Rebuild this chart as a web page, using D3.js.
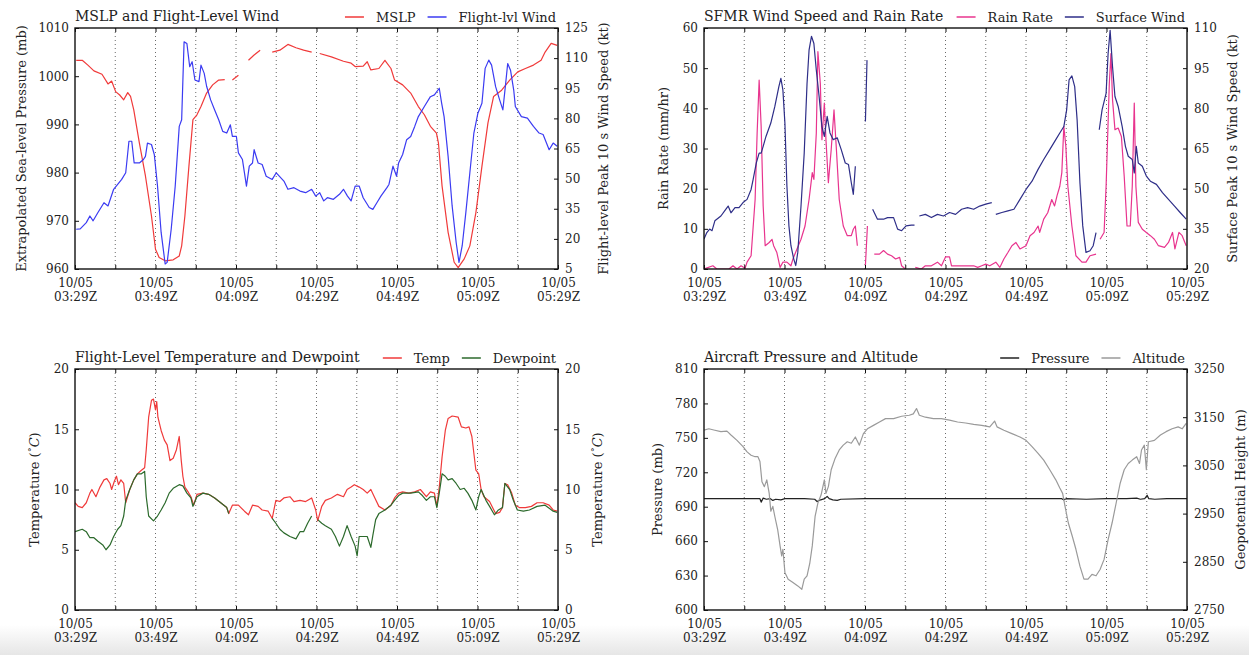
<!DOCTYPE html>
<html lang="en">
<head>
  <title>Recon flight data</title>
  <meta charset="UTF-8">
  <style>
    body { margin: 0; background: #fff; }
    svg { display: block; font-family: "DejaVu Serif", serif; }
  </style>
  <script src="https://cdn.jsdelivr.net/npm/d3@7"></script>
</head>
<body>
<script>
// every series: [minutes after 10/05 03:29Z, value], null value = data gap

var mslp = [[0.3,1003.3],[1.8,1003.3],[3.2,1002.3],[4.7,1001.1],[6.7,1000.4],[8.2,998.4],[9.1,999.0],[10.1,996.8],[11.1,996.1],[12.1,995.1],[13.1,996.6],[13.8,995.8],[14.6,993.0],[16.0,986.1],[17.5,979.3],[19.0,971.0],[20.0,964.1],[20.9,962.4],[22.4,961.7],[24.4,961.9],[25.9,962.7],[26.5,964.8],[27.3,971.0],[28.3,981.3],[29.3,991.0],[30.3,992.0],[31.3,993.7],[32.7,996.5],[34.2,998.2],[35.7,999.2],[37.2,999.3],[38.0,null],[39.1,999.2],[40.6,1000.2],[41.5,null],[43.1,1003.3],[44.5,1004.4],[46.0,1005.4],[47.5,null],[49.0,1005.0],[50.9,1005.4],[52.9,1006.6],[54.9,1005.9],[56.8,1005.4],[58.8,1005.0],[59.8,null],[60.8,1004.7],[63.7,1004.0],[66.7,1003.1],[68.6,1002.7],[69.6,1002.0],[71.6,1002.1],[72.6,1003.0],[73.5,1001.3],[75.5,1001.6],[77.0,1003.3],[78.5,1001.6],[79.4,999.2],[81.4,998.2],[83.4,996.5],[85.3,993.7],[86.8,992.0],[88.3,989.6],[89.8,988.2],[90.3,986.1],[91.2,977.2],[92.7,967.6],[94.2,961.4],[95.2,960.3],[96.7,962.1],[98.1,964.8],[99.6,971.7],[101.1,981.3],[102.6,990.3],[104.0,995.8],[106.0,997.1],[108.0,999.2],[110.0,1000.9],[111.9,1001.6],[113.9,1002.3],[115.8,1003.3],[116.8,1005.0],[118.3,1006.8],[119.8,1006.4]];

var flightWind = [[0.3,24.8],[1.3,25.0],[2.8,28.1],[3.7,31.4],[4.5,29.0],[5.7,33.1],[7.2,38.0],[8.2,36.4],[9.6,44.7],[11.6,49.6],[12.6,52.9],[13.4,68.6],[14.1,68.6],[14.7,57.8],[16.0,57.8],[17.0,59.5],[17.5,61.1],[18.0,67.7],[19.0,67.0],[19.7,62.0],[20.5,46.3],[21.4,23.2],[22.4,7.5],[22.9,8.3],[23.9,24.8],[24.9,46.3],[25.9,76.0],[26.5,79.3],[27.1,118.1],[27.8,117.3],[28.5,105.7],[29.1,108.2],[29.8,99.1],[30.8,98.3],[31.3,106.5],[32.1,102.4],[32.7,96.0],[33.7,89.2],[34.7,84.2],[35.7,79.3],[36.7,73.5],[37.7,72.7],[38.6,76.8],[39.1,71.0],[40.1,71.0],[40.6,62.8],[41.6,59.5],[42.6,46.3],[43.3,56.2],[44.1,57.8],[44.5,64.4],[45.5,57.8],[46.5,57.0],[47.5,51.2],[49.0,49.6],[50.0,52.9],[51.9,48.8],[52.9,44.7],[54.4,45.5],[55.9,43.8],[57.3,43.0],[58.8,44.7],[59.8,41.3],[60.8,43.0],[61.8,38.9],[62.7,40.5],[64.2,39.7],[65.7,42.2],[66.7,44.7],[67.7,41.3],[68.6,38.9],[69.6,46.3],[70.6,46.3],[71.6,40.5],[73.1,35.6],[74.0,34.7],[75.0,38.0],[76.0,41.3],[77.5,45.5],[78.0,47.1],[79.0,56.2],[79.9,51.2],[80.4,57.8],[81.4,62.0],[82.4,69.4],[83.4,71.0],[84.4,76.0],[85.3,80.9],[86.8,85.9],[88.3,90.8],[89.3,91.7],[90.5,95.0],[91.1,87.5],[91.7,80.9],[92.7,61.1],[93.7,36.4],[94.7,18.2],[95.4,8.3],[96.2,16.6],[97.1,33.1],[98.1,52.9],[99.1,72.7],[100.1,82.6],[101.1,87.5],[101.9,104.9],[102.8,109.0],[103.5,106.5],[104.5,95.8],[105.5,89.2],[106.3,84.2],[107.0,97.4],[107.5,107.3],[108.2,104.0],[109.0,94.1],[109.4,85.9],[110.9,80.9],[112.4,80.1],[113.9,76.0],[115.3,72.7],[116.3,72.0],[117.8,64.4],[118.8,67.7],[119.8,66.1]];

var rainRate = [[0,0],[2.2,0.8],[3.2,0],[6.2,0],[7.2,0.8],[8.2,0],[9.2,0.8],[10.2,0.2],[10.7,1.7],[11.7,3.3],[12.7,17.3],[13.2,33.8],[13.7,47.0],[14.2,35.5],[14.7,15.7],[15.2,5.8],[16.2,6.6],[16.9,7.4],[17.3,5.8],[18.1,4.1],[18.9,0.4],[19.6,1.7],[20.6,1.7],[21.6,0.8],[22.1,2.5],[23.1,5.0],[24.1,7.4],[25.1,10.7],[26.1,17.3],[26.9,24.0],[27.3,22.3],[27.9,33.8],[28.3,54.1],[28.9,46.2],[29.3,32.2],[29.9,41.3],[30.3,32.2],[30.9,21.5],[31.6,29.7],[32.3,39.6],[32.9,29.7],[33.6,17.3],[34.6,10.7],[35.6,8.3],[36.6,8.3],[37.1,9.9],[37.6,10.7],[38.1,5.8],[39.0,null],[40.1,0.8],[40.6,10.7],[41.0,null],[42.3,3.7],[43.6,3.7],[44.6,4.6],[45.6,3.7],[46.6,3.3],[47.6,2.5],[48.6,2.9],[49.1,0.8],[50.0,0],[51.0,null],[52.5,0.4],[54.0,0],[55.0,0.8],[56.5,0.8],[58.0,1.7],[59.0,0.8],[60.0,3.0],[61.0,3.0],[61.5,0.8],[64.0,0.8],[67.0,0.8],[68.0,0.4],[69.0,0.8],[70.0,1.2],[71.0,0.8],[72.5,1.7],[73.5,0.4],[74.5,2.5],[75.5,4.1],[76.5,5.8],[77.5,6.6],[78.5,5.0],[80.0,5.8],[81.0,8.3],[82.0,9.1],[83.0,10.7],[83.4,9.1],[84.4,12.4],[85.4,14.0],[86.4,17.3],[87.1,15.7],[87.7,18.2],[88.4,20.6],[88.9,24.0],[89.4,35.5],[89.9,30.5],[90.4,20.6],[91.4,10.7],[92.4,3.3],[93.9,1.7],[94.9,1.7],[95.9,3.3],[97.4,3.7],[98.0,null],[98.4,7.4],[99.4,9.1],[99.9,20.6],[100.7,46.2],[101.1,53.6],[101.5,42.1],[102.1,34.7],[102.9,35.1],[103.7,33.0],[104.4,23.1],[105.1,10.7],[105.9,10.7],[106.4,20.6],[106.9,41.3],[107.3,20.6],[107.9,11.6],[108.9,9.9],[109.9,9.1],[110.9,8.3],[111.9,7.4],[112.9,5.8],[114.4,5.4],[115.4,6.6],[116.4,9.1],[117.0,5.0],[118.0,9.1],[118.8,8.3],[119.8,5.8]];

var surfaceWind = [[0,31.2],[0.7,33.6],[1.4,34.9],[2.0,34.3],[2.7,38.0],[4.2,39.8],[5.4,42.3],[6.0,43.5],[6.7,41.0],[7.7,42.9],[8.7,42.9],[9.7,44.8],[10.7,46.0],[11.7,49.7],[12.2,53.4],[13.0,59.6],[13.7,63.3],[14.2,63.3],[14.7,65.8],[15.4,69.5],[16.6,74.5],[17.6,80.7],[18.6,88.1],[19.1,91.2],[19.6,86.9],[20.1,74.5],[20.6,51.0],[21.1,36.1],[21.6,28.7],[22.3,23.7],[22.8,21.3],[23.3,26.2],[24.1,43.5],[24.9,63.3],[25.6,89.3],[26.1,101.7],[26.7,106.9],[27.3,104.2],[27.9,94.3],[28.6,84.4],[29.3,73.2],[29.9,69.5],[30.6,77.0],[31.3,70.8],[32.1,68.3],[33.1,69.0],[34.1,64.6],[35.1,59.6],[35.9,59.0],[36.6,52.2],[37.1,47.9],[37.6,58.4],[38.5,null],[40.1,75.1],[40.5,98.0],[41.0,null],[41.9,42.3],[43.1,38.6],[44.6,38.6],[45.6,39.2],[47.1,39.2],[48.1,34.9],[49.1,34.3],[50.2,36.1],[51.5,36.4],[52.3,36.4],[53.0,null],[53.5,39.8],[55.0,40.4],[56.5,39.2],[58.0,40.4],[59.5,39.8],[61.0,41.1],[62.5,40.4],[64.0,42.3],[65.5,42.9],[67.0,42.3],[68.5,43.5],[70.0,44.2],[71.5,44.8],[72.0,null],[72.5,40.4],[74.0,41.1],[75.5,41.7],[77.0,42.3],[78.5,46.0],[80.0,49.7],[81.5,52.8],[83.0,57.2],[84.4,60.9],[85.9,64.6],[87.4,68.3],[88.4,70.8],[89.4,73.2],[90.1,79.4],[90.7,90.6],[91.4,92.1],[92.1,88.1],[92.7,75.7],[93.4,52.2],[94.1,36.1],[94.9,26.2],[95.9,26.8],[96.7,28.7],[97.4,33.6],[98.0,null],[98.2,72.0],[98.9,79.4],[99.9,85.6],[100.4,100.5],[100.9,109.1],[101.5,95.5],[102.1,84.4],[102.9,80.7],[103.9,73.2],[104.7,65.8],[105.4,62.1],[106.4,60.9],[106.9,55.9],[107.4,65.8],[107.9,59.6],[108.9,58.4],[109.9,54.7],[110.9,52.8],[112.4,51.6],[113.9,48.5],[115.4,46.0],[116.9,43.5],[118.3,41.1],[119.8,38.6]];

var temperature = [[0,8.9],[0.8,8.6],[1.8,8.5],[2.8,8.9],[3.7,9.7],[4.2,10.0],[5.2,9.4],[6.2,10.2],[7.2,10.8],[7.9,10.9],[8.7,10.5],[9.1,10.0],[9.8,10.7],[10.3,11.1],[10.8,10.4],[11.4,10.8],[12.1,10.5],[12.6,8.9],[13.6,10.0],[14.6,10.8],[15.5,11.3],[16.5,11.6],[17.3,11.8],[17.7,13.3],[18.3,16.0],[19.0,17.4],[19.5,17.5],[20.0,16.6],[20.3,17.3],[20.6,16.0],[21.4,14.9],[22.2,14.1],[22.9,13.7],[23.6,12.4],[24.4,12.6],[25.2,13.3],[25.9,14.4],[26.4,12.4],[26.8,11.1],[27.3,10.2],[28.1,9.8],[28.8,9.4],[29.5,8.7],[30.3,9.6],[31.8,9.7],[33.2,9.6],[34.7,9.3],[36.2,8.9],[37.7,8.5],[38.2,8.0],[39.1,8.7],[40.6,8.7],[42.1,8.2],[43.1,7.9],[44.1,8.7],[45.5,8.6],[46.5,8.3],[48.0,8.2],[49.0,7.6],[49.9,9.1],[50.9,9.0],[51.9,9.3],[53.4,9.4],[54.4,9.0],[55.9,9.1],[57.3,9.0],[58.8,9.3],[59.8,8.3],[60.3,7.4],[61.3,8.6],[62.2,9.1],[63.7,9.3],[65.2,9.6],[66.7,9.4],[67.6,10.0],[68.6,10.2],[69.4,10.4],[70.6,10.2],[71.6,10.0],[72.6,9.7],[73.5,10.0],[74.5,9.3],[75.5,8.6],[77.0,8.3],[78.5,8.7],[79.4,9.3],[80.4,9.7],[81.4,9.8],[82.9,9.7],[84.4,9.8],[85.8,10.0],[87.3,9.4],[88.3,9.8],[89.3,9.7],[89.9,8.6],[90.5,10.2],[91.2,12.7],[92.0,14.9],[92.7,15.9],[93.7,16.1],[95.2,16.0],[96.0,15.2],[97.1,15.1],[97.9,15.2],[98.6,14.4],[99.6,11.6],[100.3,11.3],[100.9,10.0],[101.6,9.4],[103.0,9.0],[104.5,8.0],[105.5,8.1],[106.2,8.5],[106.8,10.5],[107.5,10.4],[108.5,9.7],[109.4,8.7],[110.4,8.5],[111.9,8.5],[113.4,8.6],[114.8,8.9],[116.3,8.9],[117.8,8.7],[118.8,8.3],[119.8,8.2]];

var dewpoint = [[0,6.5],[1.8,6.7],[2.8,6.5],[3.7,6.0],[4.7,6.0],[5.7,5.7],[6.9,5.4],[7.7,5.0],[8.7,5.4],[9.6,6.1],[10.6,6.7],[11.4,7.0],[12.1,7.8],[12.6,9.1],[13.6,10.0],[14.6,10.8],[15.5,11.3],[16.5,11.3],[17.3,11.5],[17.7,9.4],[18.3,7.8],[19.5,7.4],[20.5,7.8],[21.4,8.3],[22.4,8.9],[23.4,9.7],[24.4,10.1],[25.9,10.4],[26.8,10.3],[27.8,9.7],[28.8,9.3],[29.3,8.6],[30.3,9.4],[31.8,9.7],[33.2,9.6],[34.7,9.3],[36.2,8.9],[37.7,8.5],[38.2,8.0],[38.5,null],[49.0,7.6],[49.9,7.2],[50.9,6.7],[51.9,6.4],[53.4,6.1],[54.9,5.9],[55.9,6.5],[56.8,6.5],[57.8,7.2],[58.8,7.8],[59.5,null],[60.3,7.5],[61.3,7.2],[62.2,7.0],[63.7,6.7],[64.7,6.1],[65.7,5.3],[66.7,6.1],[67.6,7.0],[68.6,6.1],[69.6,5.3],[70.1,4.5],[70.6,6.1],[71.6,6.1],[72.6,6.1],[73.5,5.2],[74.0,6.2],[74.7,7.5],[75.5,8.0],[77.0,8.3],[78.5,8.7],[79.4,9.1],[80.4,9.5],[81.4,9.7],[83.4,9.7],[85.3,9.8],[86.3,9.5],[87.3,9.1],[88.3,9.4],[89.3,9.4],[89.9,8.5],[90.5,9.7],[91.2,11.3],[92.0,11.1],[92.7,10.8],[93.7,10.9],[94.7,10.5],[95.7,10.0],[96.7,10.1],[97.6,9.7],[98.6,9.1],[99.6,8.3],[100.3,9.4],[100.9,10.0],[102.1,9.1],[103.0,8.6],[104.2,7.9],[105.2,8.3],[106.2,8.5],[106.8,10.5],[108.0,10.0],[108.9,9.1],[109.9,8.3],[111.4,8.2],[112.9,8.3],[114.8,8.6],[116.8,8.7],[118.8,8.2],[119.8,8.1]];

var acPressure = [[0,697],[5,697],[10,697],[13.9,697],[14.2,694],[14.7,697.5],[15.5,696.5],[16.5,697],[17.1,695.5],[17.8,696.5],[19.1,696],[20.1,697],[25,697],[27.5,696.5],[28.1,694.5],[29,696],[30,697],[30.6,699],[31.1,697],[32,696],[33.1,695.5],[34,696.5],[40,697],[50,697],[60,697],[70,697],[80,697],[88.9,697],[89.3,696],[90,697],[95,696.5],[100,697],[105,697],[107.5,697.5],[108.4,696.5],[109.5,697],[110.1,700],[110.5,697],[112,696.5],[115,697],[120,697]];

var altitude = [[0,3123],[1.2,3126],[2.7,3123],[4.2,3120],[5.7,3121],[6.7,3113],[8.2,3102],[9.7,3089],[10.7,3078],[11.7,3071],[12.7,3068],[13.4,3068],[13.9,3058],[14.4,3016],[15.0,3006],[15.6,3020],[16.2,2992],[16.6,2955],[17.1,2965],[17.6,2944],[18.3,2917],[18.9,2883],[19.3,2862],[19.6,2876],[20.1,2828],[20.9,2814],[22.1,2807],[23.3,2800],[24.3,2793],[24.9,2814],[25.6,2821],[26.3,2848],[26.9,2883],[27.6,2944],[28.3,2972],[29.1,2989],[29.9,3020],[30.3,2992],[30.9,3006],[31.6,3041],[32.6,3065],[33.6,3082],[34.6,3092],[35.6,3099],[36.6,3096],[37.6,3109],[38.6,3092],[39.6,3116],[40.6,3126],[42.1,3133],[43.6,3140],[45.1,3147],[47.1,3147],[49.1,3152],[51.0,3154],[52.0,3157],[52.8,3168],[53.5,3154],[55.0,3150],[57.0,3147],[59.0,3147],[61.0,3144],[63.0,3140],[65.0,3138],[67.0,3135],[69.0,3133],[71.0,3130],[72.2,3142],[72.8,3130],[74.5,3123],[76.5,3116],[78.5,3109],[80.0,3102],[81.5,3089],[83.0,3075],[84.4,3061],[85.9,3041],[87.4,3020],[88.4,3003],[89.1,2992],[89.7,2965],[90.5,2931],[91.5,2903],[92.4,2876],[93.4,2841],[94.4,2814],[95.4,2814],[96.4,2824],[97.4,2821],[98.4,2834],[99.4,2855],[100.4,2896],[101.4,2931],[102.4,2972],[103.4,3013],[104.4,3041],[105.4,3054],[106.4,3061],[107.5,3068],[108.2,3054],[108.7,3082],[109.4,3092],[109.9,3041],[110.4,3099],[111.9,3102],[113.4,3113],[114.8,3120],[116.3,3126],[117.8,3130],[118.8,3126],[119.8,3137]];

var mslpTicks = [960, 970, 980, 990, 1000, 1010];
var windTicks = [5, 20, 35, 50, 65, 80, 95, 110, 125];
var rainTicks = [0, 10, 20, 30, 40, 50, 60];
var sfmrTicks = [20, 35, 50, 65, 80, 95, 110];
var tempTicks = [0, 5, 10, 15, 20];
var presTicks = [600, 630, 660, 690, 720, 750, 780, 810];
var heightTicks = [2750, 2850, 2950, 3050, 3150, 3250];

var T0 = Date.UTC(2016, 9, 5, 3, 29);
var toDate = function(m) { return new Date(T0 + m * 60000); };
var timeTicks = d3.range(0, 121, 10).map(toDate);

var W = 1249, H = 655;
var svg = d3.select("body").append("svg").attr("width", W).attr("height", H);

// faint grey band at the bottom of the screenshot
var grad = svg.append("defs").append("linearGradient")
  .attr("id", "fade").attr("x1", 0).attr("x2", 0).attr("y1", 0).attr("y2", 1);
grad.append("stop").attr("offset", 0).attr("stop-color", "#fff");
grad.append("stop").attr("offset", 1).attr("stop-color", "#e6e6e6");
svg.append("rect").attr("x", 0).attr("y", 625).attr("width", W).attr("height", 30).attr("fill", "url(#fade)");

var panels = [
  { id: "p1", x0: 75, x1: 558, y0: 28, y1: 269, title: "MSLP and Flight-Level Wind",
    left: { domain: [960, 1010], ticks: mslpTicks, label: "Extrapolated Sea-level Pressure (mb)", off: 54 },
    right: { domain: [5, 125], ticks: windTicks, label: "Flight-level Peak 10 s Wind Speed (kt)", off: 45 },
    series: [ { data: mslp, side: "left", color: "#f03a3a", name: "MSLP" },
              { data: flightWind, side: "right", color: "#3b3bf2", name: "Flight-lvl Wind" } ] },
  { id: "p2", x0: 704, x1: 1187, y0: 28, y1: 269, title: "SFMR Wind Speed and Rain Rate",
    left: { domain: [0, 60], ticks: rainTicks, label: "Rain Rate (mm/hr)", off: 41 },
    right: { domain: [20, 110], ticks: sfmrTicks, label: "Surface Peak 10 s Wind Speed (kt)", off: 45 },
    series: [ { data: rainRate, side: "left", color: "#e8348e", name: "Rain Rate" },
              { data: surfaceWind, side: "right", color: "#2e2e88", name: "Surface Wind" } ] },
  { id: "p3", x0: 75, x1: 558, y0: 369, y1: 610, title: "Flight-Level Temperature and Dewpoint",
    left: { domain: [0, 20], ticks: tempTicks, label: "temp", off: 41 },
    right: { domain: [0, 20], ticks: tempTicks, label: "temp", off: 39 },
    series: [ { data: temperature, side: "left", color: "#f03a3a", name: "Temp" },
              { data: dewpoint, side: "left", color: "#2c6a2c", name: "Dewpoint" } ] },
  { id: "p4", x0: 704, x1: 1187, y0: 369, y1: 610, title: "Aircraft Pressure and Altitude",
    left: { domain: [600, 810], ticks: presTicks, label: "Pressure (mb)", off: 47 },
    right: { domain: [2750, 3250], ticks: heightTicks, label: "Geopotential Height (m)", off: 53 },
    series: [ { data: acPressure, side: "left", color: "#222", name: "Pressure" },
              { data: altitude, side: "right", color: "#9a9a9a", name: "Altitude" } ] }
];

panels.forEach(drawPanel);

function setLabel(text, label) {
  if (label === "temp") {
    text.append("tspan").text("Temperature (");
    text.append("tspan").text("°").attr("dy", -4).attr("font-size", 10);
    text.append("tspan").text("C").attr("dy", 4).attr("font-style", "italic");
    text.append("tspan").text(")");
  } else {
    text.text(label);
  }
}

function drawPanel(p) {
  var g = svg.append("g");
  var x = d3.scaleUtc().domain([toDate(0), toDate(120)]).range([p.x0, p.x1]);
  var yl = d3.scaleLinear().domain(p.left.domain).range([p.y1, p.y0]);
  var yr = d3.scaleLinear().domain(p.right.domain).range([p.y1, p.y0]);
  var num = d3.format("d");

  // dotted vertical grid every 10 minutes
  g.append("g").selectAll("line").data(timeTicks.slice(1, -1)).join("line")
    .attr("x1", function(d) { return x(d); }).attr("x2", function(d) { return x(d); })
    .attr("y1", p.y0).attr("y2", p.y1)
    .attr("stroke", "#444").attr("stroke-width", 0.8).attr("stroke-dasharray", "1,3");

  g.append("clipPath").attr("id", "clip-" + p.id).append("rect")
    .attr("x", p.x0).attr("y", p.y0).attr("width", p.x1 - p.x0).attr("height", p.y1 - p.y0);

  var lines = g.append("g").attr("clip-path", "url(#clip-" + p.id + ")");
  p.series.forEach(function(s) {
    var y = s.side === "left" ? yl : yr;
    var line = d3.line()
      .defined(function(d) { return d[1] !== null; })
      .x(function(d) { return x(toDate(d[0])); })
      .y(function(d) { return y(d[1]); });
    lines.append("path").datum(s.data)
      .attr("d", line).attr("fill", "none")
      .attr("stroke", s.color).attr("stroke-width", 1.2).attr("stroke-linejoin", "round");
  });

  var fmtDay = d3.utcFormat("%m/%d"), fmtTime = d3.utcFormat("%H:%MZ");

  var xb = g.append("g").attr("transform", "translate(0," + p.y1 + ")")
    .call(d3.axisBottom(x).tickValues(timeTicks).tickSizeInner(-4).tickSizeOuter(0).tickPadding(6).tickFormat(""));
  xb.selectAll(".tick text").each(function(d) {
    var m = Math.round((d - T0) / 60000);
    if (m % 20 !== 0) return;
    var t = d3.select(this).attr("dy", null).attr("y", 18);
    t.append("tspan").attr("x", 0).text(fmtDay(d));
    t.append("tspan").attr("x", 0).attr("dy", 14).text(fmtTime(d));
  });
  g.append("g").attr("transform", "translate(0," + p.y0 + ")")
    .call(d3.axisTop(x).tickValues(timeTicks).tickSizeInner(-4).tickSizeOuter(0).tickFormat(""));

  g.append("g").attr("transform", "translate(" + p.x0 + ",0)")
    .call(d3.axisLeft(yl).tickValues(p.left.ticks).tickFormat(num).tickSizeInner(-4).tickSizeOuter(0).tickPadding(6));
  g.append("g").attr("transform", "translate(" + p.x1 + ",0)")
    .call(d3.axisRight(yr).tickValues(p.right.ticks).tickFormat(num).tickSizeInner(-4).tickSizeOuter(0).tickPadding(7));

  g.selectAll(".domain").remove();
  g.selectAll(".tick line").attr("stroke", "#111");
  g.selectAll(".tick text").attr("font-family", "DejaVu Serif").attr("font-size", 12).attr("fill", "#222");

  g.append("rect").attr("x", p.x0).attr("y", p.y0)
    .attr("width", p.x1 - p.x0).attr("height", p.y1 - p.y0)
    .attr("fill", "none").attr("stroke", "#111").attr("stroke-width", 1.4);

  var ym = (p.y0 + p.y1) / 2;
  var ll = g.append("text").attr("text-anchor", "middle").attr("font-size", 13).attr("fill", "#222")
    .attr("transform", "translate(" + (p.x0 - p.left.off) + "," + ym + ") rotate(-90)").attr("dy", "0.35em");
  setLabel(ll, p.left.label);
  var rl = g.append("text").attr("text-anchor", "middle").attr("font-size", 13).attr("fill", "#222")
    .attr("transform", "translate(" + (p.x1 + p.right.off) + "," + ym + ") rotate(-90)").attr("dy", "0.35em");
  setLabel(rl, p.right.label);

  g.append("text").attr("x", p.x0).attr("y", p.y0 - 7)
    .attr("font-size", 14).attr("fill", "#222").text(p.title);

  // legend, right aligned above the frame
  var lx = p.x1 - 2, ly = p.y0 - 11;
  p.series.slice().reverse().forEach(function(s) {
    var t = g.append("text").attr("x", lx).attr("y", ly).attr("dy", "0.35em")
      .attr("text-anchor", "end").attr("font-size", 13).attr("fill", "#222").text(s.name);
    var tw = t.node().getComputedTextLength();
    lx = lx - tw - 12;
    g.append("line").attr("x1", lx - 19).attr("x2", lx).attr("y1", ly).attr("y2", ly)
      .attr("stroke", s.color).attr("stroke-width", 1.5);
    lx = lx - 19 - 12;
  });
}
</script>
</body>
</html>
